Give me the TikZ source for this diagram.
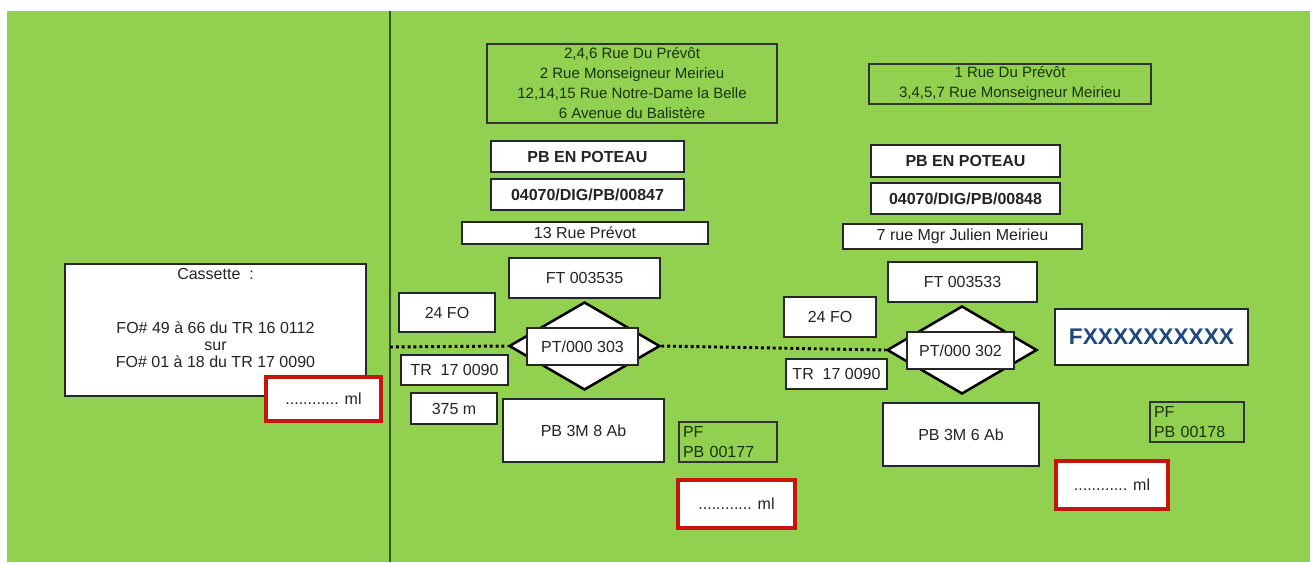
\documentclass[tikz,border=0pt]{standalone}
\usepackage{fontspec}
\setmainfont{Liberation Sans}
\usetikzlibrary{shapes.geometric}
\definecolor{grass}{RGB}{146,208,80}
\definecolor{darkline}{RGB}{50,85,40}
\definecolor{markred}{RGB}{200,20,10}
\definecolor{fxblue}{RGB}{31,73,125}
\definecolor{inktext}{RGB}{35,35,35}
\definecolor{greentext}{RGB}{25,50,15}

\begin{document}
\begin{tikzpicture}[x=0.75pt,y=-0.75pt,thick,
    font=\fontsize{12}{12.75}\selectfont,
    sz/.style 2 args={minimum width=#1*0.75pt,minimum height=#2*0.75pt},
    white box/.style={rectangle,draw=black!85,fill=white,line width=1.1pt,
                      inner sep=0pt,text=inktext,align=center},
    green box/.style={rectangle,draw=black!80,line width=1.1pt,inner sep=0pt,
                      text=greentext},
    red box/.style={white box,draw=markred,line width=3pt},
    pole/.style={diamond,draw=black,fill=white,line width=1.9pt,inner sep=0pt},
    fibre/.style={line width=2.2pt,dash pattern=on 2.2pt off 2.2pt}]

  \path[use as bounding box,fill=white] (0,0) rectangle (1310,562);
  \fill[grass] (7,11) rectangle (1310,562);
  \coordinate (top) at (390,11);
  \coordinate (bot) at (390,562);
  \draw[darkline,line width=1.5pt] (top) -- (bot);

  % cassette
  \node[white box,sz={301}{132},
        label={[anchor=north,inner sep=0pt,yshift=-3.75pt,text=inktext]north:Cassette~~:}]
        (cass) at (215.5,330) {};
  \node[align=center,inner sep=0pt,text=inktext] (cassfo) at (215.5,345)
        {FO\# 49 à 66 du TR 16 0112\\sur\\FO\# 01 à 18 du TR 17 0090};
  \node[red box,sz={115}{44}] (ml1) at (323.5,399) {............ ml};

  % PT 303
  \node[green box,sz={290}{79},align=center,font=\fontsize{11.25}{15}\selectfont]
        (addr1) at (632,83.5)
        {2,4,6 Rue Du Prévôt\\2 Rue Monseigneur Meirieu\\
         12,14,15 Rue Notre-Dame la Belle\\6 Avenue du Balistère};
  \node[white box,sz={193}{31},font=\fontsize{12}{12.75}\selectfont\bfseries]
        (pole1) at (587.5,156.5) {PB EN POTEAU};
  \node[white box,sz={193}{31},font=\fontsize{12}{12.75}\selectfont\bfseries]
        (code1) at (587.5,194.5) {04070/DIG/PB/00847};
  \node[white box,sz={246}{22}] (rue1) at (585,233) {13 Rue Prévot};
  \node[white box,sz={151}{40}] (ft1) at (584.5,278) {FT 003535};
  \node[white box,sz={96}{39}] (fo1) at (447,312.5) {24 FO};
  \node[pole,sz={151}{88}] (dia1) at (584.5,346) {};
  \node[white box,sz={111}{37}] (pt1) at (582.5,346.5) {PT/000 303};
  \node[white box,sz={107}{30}] (tr1) at (454.5,370) {TR~~17 0090};
  \node[white box,sz={86}{31}] (len1) at (454,408.5) {375 m};
  \node[white box,sz={161}{63}] (pb1) at (583.5,430.5) {PB 3M 8 Ab};
  \node[green box,sz={98}{40},text width=67.5pt,align=left,
        font=\fontsize{12}{15}\selectfont] (pf1) at (728,442) {PF\\PB 00177};
  \node[red box,sz={117}{48}] (ml2) at (736.5,504) {............ ml};

  % PT 302
  \node[green box,sz={282}{40},align=center,font=\fontsize{11.25}{15}\selectfont]
        (addr2) at (1010,84)
        {1 Rue Du Prévôt\\3,4,5,7 Rue Monseigneur Meirieu};
  \node[white box,sz={189}{32},font=\fontsize{12}{12.75}\selectfont\bfseries]
        (pole2) at (965.5,161) {PB EN POTEAU};
  \node[white box,sz={189}{31},font=\fontsize{12}{12.75}\selectfont\bfseries]
        (code2) at (965.5,198.5) {04070/DIG/PB/00848};
  \node[white box,sz={239}{25}] (rue2) at (962.5,236.5) {7 rue Mgr Julien Meirieu};
  \node[white box,sz={149}{40}] (ft2) at (962.5,282) {FT 003533};
  \node[white box,sz={92}{40}] (fo2) at (830,317) {24 FO};
  \node[pole,sz={150}{88}] (dia2) at (962,350) {};
  \node[white box,sz={107}{37}] (pt2) at (960.5,350.5) {PT/000 302};
  \node[white box,sz={101}{30}] (tr2) at (836.5,374) {TR~~17 0090};
  \node[white box,sz={193}{56},text=fxblue,font=\fontsize{17}{20}\selectfont\bfseries]
        (fx) at (1151.5,337) {FXXXXXXXXXX};
  \node[green box,sz={94}{40},text width=64.5pt,align=left,
        font=\fontsize{12}{15}\selectfont] (pf2) at (1197,422) {PF\\PB 00178};
  \node[white box,sz={156}{63}] (pb2) at (961,434.5) {PB 3M 6 Ab};
  \node[red box,sz={112}{48}] (ml3) at (1112,485) {............ ml};

  % fibre
  \coordinate (feed) at (390,347);
  \path[fibre]
    (feed) edge (dia1.west)
    (dia1.east) edge (dia2.west);
\end{tikzpicture}
\end{document}
